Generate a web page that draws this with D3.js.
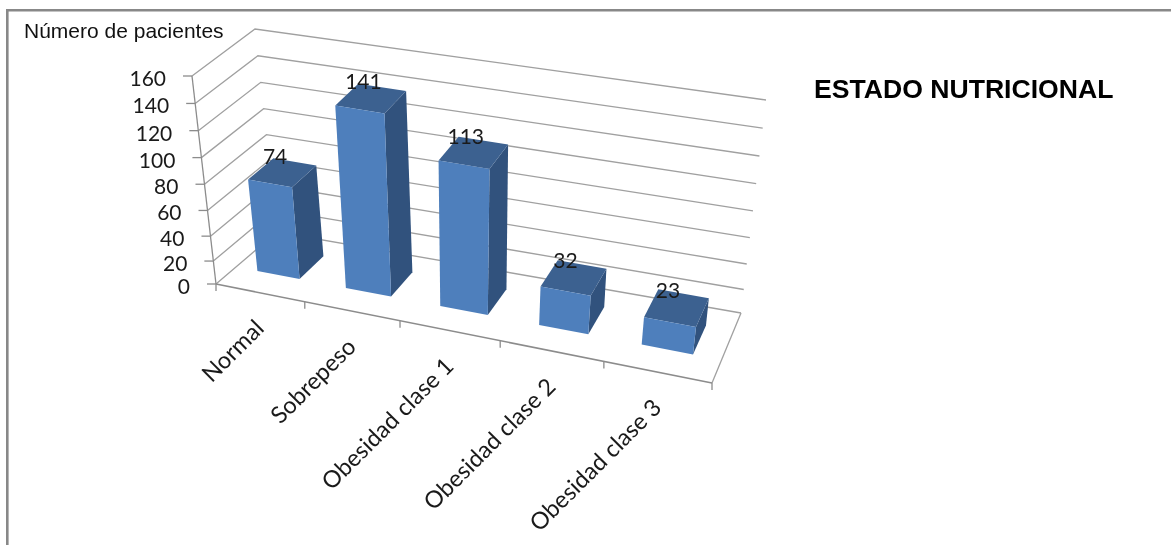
<!DOCTYPE html>
<html><head><meta charset="utf-8">
<style>html,body{margin:0;padding:0;background:#fff;overflow:hidden}svg{filter:blur(0.35px)}</style>
<script src="https://cdnjs.cloudflare.com/ajax/libs/d3/7.8.5/d3.min.js"></script>
</head><body><svg id="c" width="1171" height="545"></svg>
<script>
const categories=["Normal","Sobrepeso","Obesidad clase 1","Obesidad clase 2","Obesidad clase 3"];
const values=[74,141,113,32,23];
const valueTicks=[0,20,40,60,80,100,120,140,160];
const titleText="ESTADO NUTRICIONAL";
const yAxisTitle="Número de pacientes";

// projected corners of the chart box
const FLB=[216,284],FLT=[192,76],BLB=[277,232],BLT=[255,29],BRB=[741,313],BRT=[766,100],FRB=[712,383],FRT=[739,166];
// perspective foreshortening along the category axis
const uS=d3.scaleLinear().domain([0,1,2,3,4,5]).range([0,0.179,0.371,0.573,0.782,1]);
const wS=d3.scalePow().exponent(1.06).domain([0,160]).range([0,1]);
const lerp=(a,b,t)=>[a[0]+(b[0]-a[0])*t,a[1]+(b[1]-a[1])*t];
function P(u,v,val){
  const s=uS(u),t=wS(val);
  const fb=lerp(FLB,FRB,s),ft=lerp(FLT,FRT,s),bb=lerp(BLB,BRB,s),bt=lerp(BLT,BRT,s);
  return lerp(lerp(fb,ft,t),lerp(bb,bt,t),v);
}
const svg=d3.select("#c");
const line=d3.line();
const poly=pts=>line(pts)+"Z";
const grid="#a0a0a0",axisC="#8c8c8c",txt="#1a1a1a";
const labelFont="Lato,'Open Sans',sans-serif";

// frame
svg.append("path").attr("d","M7.3,545V10.3H1171").attr("fill","none").attr("stroke","#888").attr("stroke-width",2.6);

// gridlines
const g=svg.append("g");
valueTicks.forEach(k=>{
  g.append("path").attr("d",line([P(0,0,k),P(0,1,k),P(5,1,k)])).attr("fill","none").attr("stroke",grid).attr("stroke-width",1.3);
});
g.append("path").attr("d",line([P(5,1,0),P(5,0,0)])).attr("fill","none").attr("stroke",grid).attr("stroke-width",1.3);
g.append("path").attr("d",line([P(0,0,0),P(0,0,160)])).attr("fill","none").attr("stroke",axisC).attr("stroke-width",1.3);
g.append("path").attr("d",line([P(0,0,0),P(5,0,0)])).attr("fill","none").attr("stroke",axisC).attr("stroke-width",1.5);
valueTicks.forEach(k=>{
  const p=P(0,0,k);
  g.append("path").attr("d",line([[p[0]-9,p[1]],p])).attr("stroke",axisC).attr("stroke-width",1.3);
  svg.append("text").attr("x",p[0]-26).attr("y",p[1]+10).attr("text-anchor","end")
    .attr("font-family",labelFont).attr("font-size",21).attr("fill",txt).text(k);
});
d3.range(0,6).forEach(i=>{
  const p=P(i,0,0);
  g.append("path").attr("d",line([p,[p[0],p[1]+7]])).attr("stroke",axisC).attr("stroke-width",1.3);
});

// bars
const u0=0.245,u1=0.73,v0=0.33,v1=0.75;
values.forEach((d,i)=>{
  const a=i+u0,b=i+u1;
  const bar=svg.append("g");
  bar.append("path").attr("d",poly([P(b,v0,0),P(b,v1,0),P(b,v1,d),P(b,v0,d)])).attr("fill","#31527d");
  bar.append("path").attr("d",poly([P(a,v0,d),P(b,v0,d),P(b,v1,d),P(a,v1,d)])).attr("fill","#3c6190");
  bar.append("path").attr("d",poly([P(a,v0,0),P(b,v0,0),P(b,v0,d),P(a,v0,d)])).attr("fill","#4e7fbc");
});
// data labels
values.forEach((d,i)=>{
  const p=P(i+0.5,0.6,d);
  svg.append("text").attr("x",p[0]-12).attr("y",p[1]-6).attr("text-anchor","middle")
    .attr("font-family",labelFont).attr("font-size",21).attr("fill",txt).text(d);
});
// category labels
categories.forEach((c,i)=>{
  const p=P(i+0.5,0,0);
  svg.append("text").attr("transform",`translate(${p[0]+5},${p[1]+37}) rotate(-45)`).attr("text-anchor","end")
    .attr("font-family",labelFont).attr("font-size",23.5).attr("fill",txt).text(c);
});
// titles
svg.append("text").attr("x",24).attr("y",38).attr("font-family","'Liberation Sans',Arial,sans-serif").attr("font-size",21).attr("fill","#111").text(yAxisTitle);
svg.append("text").attr("x",814).attr("y",98).attr("font-family","'Liberation Sans',Arial,sans-serif").attr("font-weight","bold").attr("font-size",26.6).attr("fill","#000").text(titleText);
</script></body></html>
